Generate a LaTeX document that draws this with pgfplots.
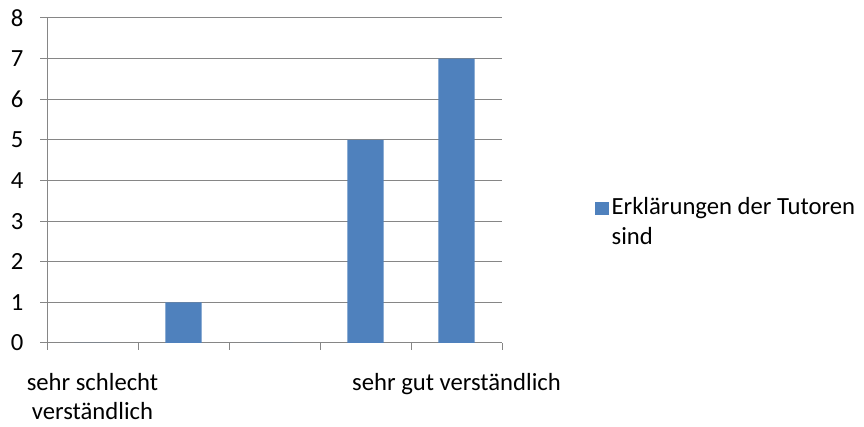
\documentclass[border=0pt]{standalone}
\usepackage{fontspec}
\setmainfont{Carlito}
\usepackage{pgfplots}
\pgfplotsset{compat=1.18}
\definecolor{barblue}{HTML}{4F81BD}
\definecolor{gridgray}{HTML}{868686}
\begin{document}
\begin{tikzpicture}
\useasboundingbox (0,0) rectangle (648pt,320.25pt);
\begin{axis}[
  at={(35.25pt,63pt)}, anchor=south west,
  scale only axis,
  width=341.25pt, height=243.75pt,
  xmin=-0.5, xmax=4.5,
  ymin=0, ymax=8,
  ytick={0,1,...,8},
  xtick={-0.5,0.5,1.5,2.5,3.5,4.5},
  xticklabels={{sehr schlecht\\verständlich},,,,{sehr gut verständlich},},
  xticklabel style={xshift=34.125pt, align=center, yshift=-14pt},
  yticklabel style={xshift=-9pt},
  axis x line=bottom, axis y line=left,
  axis line style={-, draw=gridgray, line width=0.75pt},
  tick align=outside,
  major tick length=5.25pt,
  tick style={draw=gridgray, line width=0.75pt},
  ymajorgrids,
  grid style={draw=gridgray, line width=0.75pt},
  /pgf/number format/assume math mode=true,
  tick label style={font=\fontsize{18.5}{22}\selectfont},
  ybar, bar width=0.4,
  legend style={draw=none, fill=none, inner sep=0pt,
    at={(axis description cs:1.2044,0.372)}, anchor=west,
    font=\fontsize{18.5}{23}\selectfont,
    nodes={align=left}},
  legend cell align=left,
  legend image code/.code={\fill[#1] (-2.5pt,5pt) rectangle (7.75pt,14.75pt);},
]
\addplot[fill=barblue, draw=none] coordinates {(0,0) (1,1) (2,0) (3,5) (4,7)};
\legend{{Erklärungen der Tutoren\\sind}}
\end{axis}
\end{tikzpicture}
\end{document}
